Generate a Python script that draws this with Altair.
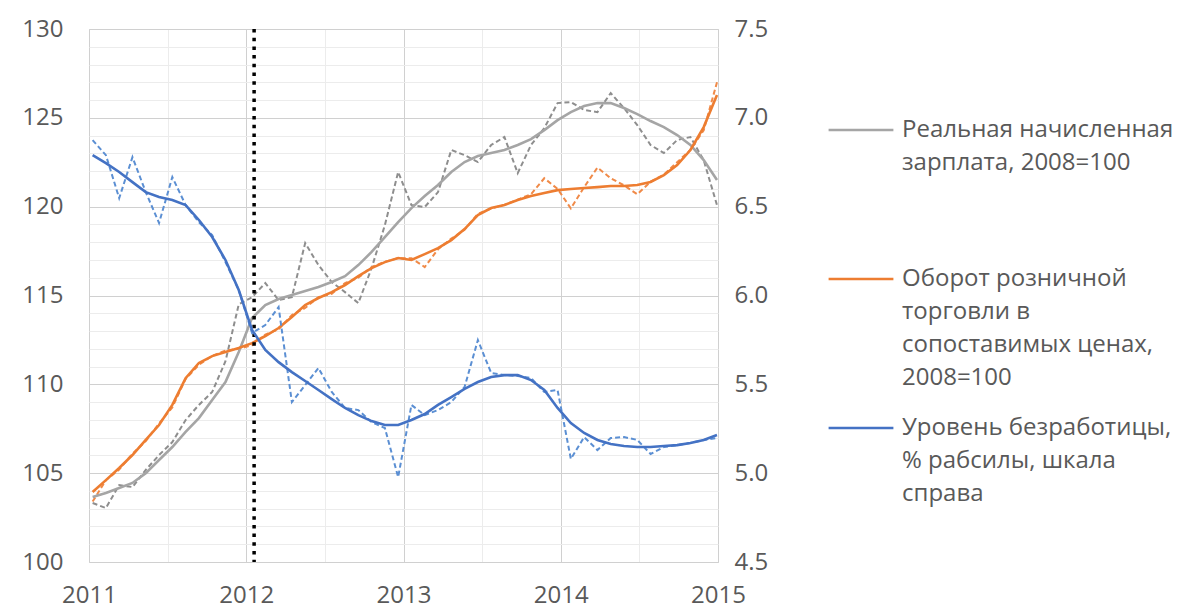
import altair as alt
import pandas as pd

# ---------------- data ----------------
month_index = list(range(48))  # Jan 2011 ... Dec 2014

wage_raw = [103.32, 103.04, 104.33, 104.22, 105.18, 106.02, 106.75, 107.99, 108.84, 109.57,
            111.3, 114.5, 114.9, 115.7, 114.74, 114.91, 117.95, 116.71, 115.76, 115.19,
            114.57, 116.54, 118.96, 121.95, 120.09, 119.98, 120.82, 123.19, 122.90, 122.51,
            123.47, 123.92, 121.89, 123.47, 124.42, 125.83, 125.89, 125.44, 125.32, 126.39,
            125.55, 124.59, 123.47, 123.02, 123.75, 123.92, 122.62, 120.09]
wage_trend = [103.66, 103.88, 104.16, 104.45, 105.0, 105.74, 106.47, 107.32, 108.10, 109.12,
              110.13, 111.82, 113.73, 114.46, 114.80, 115.03, 115.25, 115.48, 115.76, 116.09,
              116.71, 117.45, 118.29, 119.13, 119.92, 120.60, 121.22, 121.95, 122.51, 122.85,
              123.02, 123.19, 123.47, 123.80, 124.31, 124.87, 125.32, 125.66, 125.83, 125.83,
              125.55, 125.21, 124.82, 124.48, 124.03, 123.47, 122.62, 121.50]
retail_raw = [103.4, 104.6, 105.2, 106.1, 106.8, 107.8, 108.7, 110.3, 111.1, 111.6,
              111.9, 112.0, 112.2, 112.8, 113.1, 113.9, 114.3, 114.9, 115.1, 115.7,
              116.0, 116.6, 116.9, 117.1, 117.1, 116.6, 117.6, 118.2, 118.7, 119.6,
              119.9, 120.1, 120.4, 120.7, 121.6, 121.0, 119.9, 121.1, 122.2, 121.6,
              121.2, 120.7, 121.4, 121.8, 122.5, 123.2, 124.3, 127.0]
retail_trend = [103.94, 104.61, 105.29, 106.02, 106.87, 107.71, 108.84, 110.35, 111.20, 111.59,
                111.82, 112.04, 112.32, 112.72, 113.17, 113.79, 114.46, 114.86, 115.19, 115.59,
                116.09, 116.54, 116.88, 117.11, 117.00, 117.33, 117.67, 118.12, 118.74, 119.53,
                119.92, 120.09, 120.37, 120.60, 120.77, 120.93, 120.99, 121.05, 121.10, 121.16,
                121.16, 121.22, 121.39, 121.78, 122.34, 123.19, 124.48, 126.28]
unemp_raw = [6.875, 6.79, 6.548, 6.779, 6.582, 6.408, 6.667, 6.509, 6.413, 6.34,
             6.188, 6.031, 5.789, 5.834, 5.935, 5.40, 5.496, 5.592, 5.457, 5.367,
             5.355, 5.288, 5.254, 4.978, 5.384, 5.327, 5.355, 5.40, 5.485, 5.749,
             5.564, 5.552, 5.547, 5.535, 5.457, 5.468, 5.08, 5.203, 5.13, 5.198,
             5.203, 5.187, 5.108, 5.147, 5.158, 5.17, 5.187, 5.198]
unemp_trend = [6.79, 6.745, 6.695, 6.638, 6.582, 6.554, 6.537, 6.509, 6.425, 6.329,
               6.20, 6.031, 5.806, 5.694, 5.625, 5.569, 5.519, 5.468, 5.417, 5.367,
               5.327, 5.293, 5.271, 5.271, 5.299, 5.333, 5.384, 5.428, 5.474, 5.513,
               5.541, 5.552, 5.552, 5.524, 5.468, 5.367, 5.282, 5.226, 5.187, 5.164,
               5.153, 5.147, 5.147, 5.153, 5.158, 5.17, 5.187, 5.215]

event_date = [2012.05]

S_WAGE = "Реальная начисленная|зарплата, 2008=100"
S_RETAIL = "Оборот розничной|торговли в|сопоставимых ценах,|2008=100"
S_UNEMP = "Уровень безработицы,|% рабсилы, шкала|справа"

year_ticks = [2011 + q / 4 for q in range(17)]
left_ticks = [100, 105, 110, 115, 120, 125, 130]
right_ticks = [round(4.5 + k * 0.1, 1) for k in range(31)]

# ---------------- styling ----------------
FONT = "Open Sans"
TXT = "#595959"
MAJOR = "#D0D0D0"
MINOR = "#ECECEC"
GREY, ORANGE, BLUE = "#A5A5A5", "#ED7D31", "#4472C4"
GREY_D, ORANGE_D, BLUE_D = "#8E8E8E", "#F08A48", "#5B8FD3"

# position of each monthly observation on the year axis
t = [2011.023 + i * 0.08448 for i in month_index]

def frame(series, values):
    return pd.DataFrame({"t": t, "value": values, "series": series})

left_solid = pd.concat([frame(S_WAGE, wage_trend), frame(S_RETAIL, retail_trend)])
right_solid = frame(S_UNEMP, unemp_trend)

x_axis = alt.Axis(values=year_ticks, title=None, ticks=False, domain=False,
                  labelExpr="datum.value % 1 == 0 ? format(datum.value, 'd') : ''",
                  labelOverlap=False, labelFlush=False,
                  grid=True, gridWidth=1,
                  gridColor={"condition": {"test": "datum.value % 1 == 0", "value": MAJOR}, "value": MINOR},
                  labelFont=FONT, labelFontSize=24, labelColor=TXT, labelPadding=21)
X = alt.X("t:Q", scale=alt.Scale(domain=[2011, 2015], nice=False, zero=False), axis=x_axis)

left_axis = alt.Axis(values=left_ticks, title=None, ticks=False, domain=False, grid=False,
                     labelFont=FONT, labelFontSize=24, labelColor=TXT, labelPadding=26)
Y_left = alt.Y("value:Q", scale=alt.Scale(domain=[100, 130], nice=False, zero=False), axis=left_axis)

half_test = "abs(datum.value*2 - round(datum.value*2)) < 0.001"
right_axis = alt.Axis(orient="right", values=right_ticks, title=None, ticks=False, domain=False,
                      labelExpr=f"{half_test} ? format(datum.value, '.1f') : ''",
                      labelOverlap=False,
                      grid=True, gridWidth=1,
                      gridColor={"condition": {"test": half_test, "value": MAJOR}, "value": MINOR},
                      labelFont=FONT, labelFontSize=24, labelColor=TXT, labelPadding=16)
Y_right = alt.Y("value:Q", scale=alt.Scale(domain=[4.5, 7.5], nice=False, zero=False), axis=right_axis)

legend = alt.Legend(title=None, orient="none", legendX=738, legendY=67, padding=0,
                    symbolType="stroke", symbolSize=4200, symbolStrokeWidth=2.5,
                    labelExpr="split(datum.label, '|')", labelFont=FONT, labelFontSize=24,
                    labelColor=TXT, labelLimit=600, labelOffset=7, labelBaseline="middle",
                    rowPadding=4, gridAlign="all")
color = alt.Color("series:N",
                  scale=alt.Scale(domain=[S_WAGE, S_RETAIL, S_UNEMP], range=[GREY, ORANGE, BLUE]),
                  legend=legend)

dash = [5, 3]
wage_dash = alt.Chart(frame(S_WAGE, wage_raw)).mark_line(
    strokeWidth=2, strokeDash=dash, color=GREY_D).encode(x=X, y=Y_left)
retail_dash = alt.Chart(frame(S_RETAIL, retail_raw)).mark_line(
    strokeWidth=2, strokeDash=dash, color=ORANGE_D).encode(x=X, y=Y_left)
left_lines = alt.Chart(left_solid).mark_line(strokeWidth=2.6).encode(
    x=X, y=Y_left, color=color, detail="series:N")
event_rule = alt.Chart(pd.DataFrame({"t": event_date})).mark_rule(
    color="black", strokeWidth=3.5, strokeDash=[3.5, 5.2]).encode(x="t:Q")

unemp_dash = alt.Chart(frame(S_UNEMP, unemp_raw)).mark_line(
    strokeWidth=2, strokeDash=dash, color=BLUE_D).encode(x=X, y=Y_right)
right_lines = alt.Chart(right_solid).mark_line(strokeWidth=2.6).encode(
    x=X, y=Y_right, color=color)

left = alt.layer(wage_dash, retail_dash, left_lines, event_rule)
right = alt.layer(unemp_dash, right_lines)

chart = (
    alt.layer(left, right)
    .resolve_scale(y="independent")
    .properties(width=629, height=533, background="white",
                padding={"left": 13, "top": 9, "right": 5, "bottom": 5})
    .configure(view=alt.ViewConfig(stroke="#D4D4D4", strokeWidth=1),
               style={"guide-label": {"lineHeight": 33}})
)

chart.save("out.html", embed_options={"renderer": "svg", "actions": False})
